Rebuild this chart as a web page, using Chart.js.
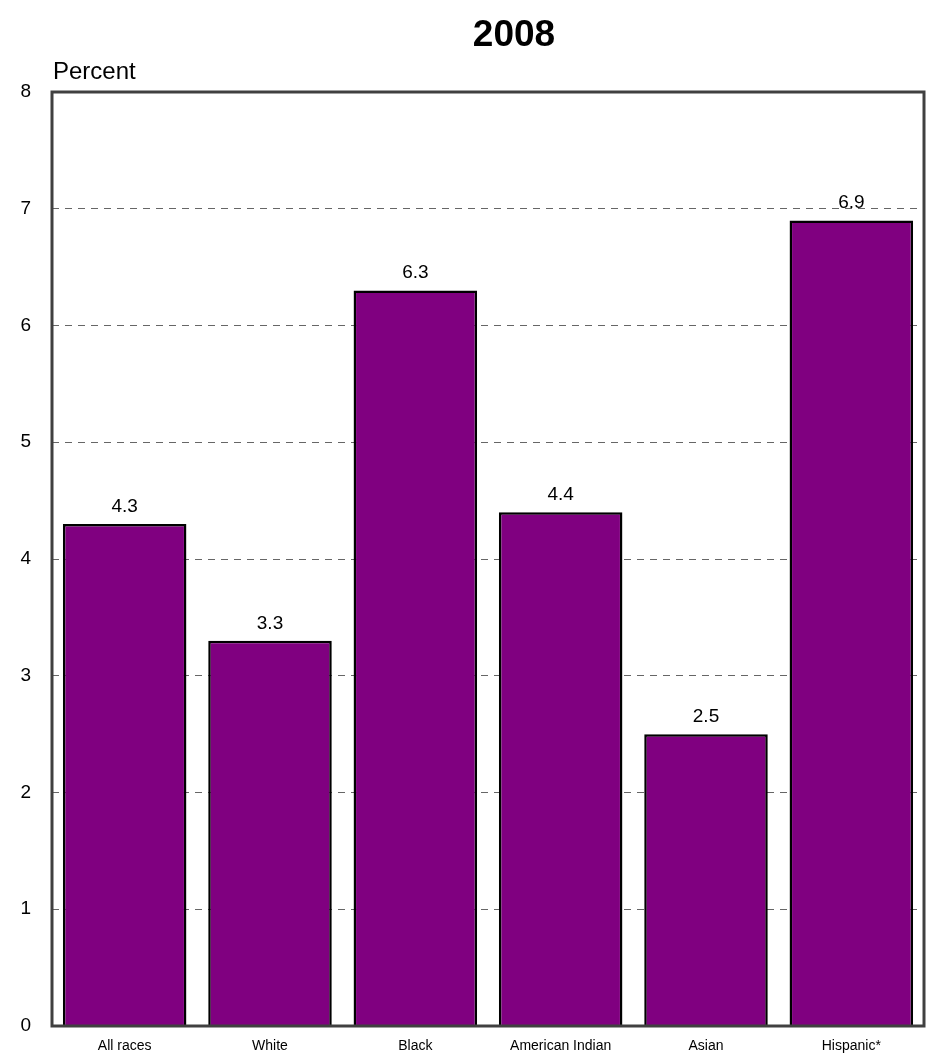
<!DOCTYPE html>
<html>
<head>
<meta charset="utf-8">
<script src="https://cdn.jsdelivr.net/npm/chart.js"></script>
<style>
  html, body { margin: 0; padding: 0; background: #ffffff; }
  #wrap { width: 929px; height: 1061px; position: relative; }
</style>
</head>
<body>
<div id="wrap"><canvas id="barChart" width="929" height="1061"></canvas></div>
<script>
// chart data
const categories = ['All races', 'White', 'Black', 'American Indian', 'Asian', 'Hispanic*'];
const percentValues = [4.3, 3.3, 6.3, 4.4, 2.5, 6.9];
const yTicks = [0, 1, 2, 3, 4, 5, 6, 7, 8];
const chartTitle = '2008';
const yAxisTitle = 'Percent';

const FONT = 'Arial, "Liberation Sans", Helvetica, sans-serif';

// frame, title, axis title and value labels
const decorPlugin = {
    id: 'decor',
    afterDatasetsDraw(chart) {
        const ctx = chart.ctx;
        const area = chart.chartArea;
        const meta = chart.getDatasetMeta(0);

        ctx.save();
        ctx.fillStyle = '#000000';
        ctx.textAlign = 'center';
        ctx.textBaseline = 'alphabetic';
        ctx.font = '19px ' + FONT;
        meta.data.forEach(function(bar, i) {
            ctx.fillText(percentValues[i].toFixed(1), bar.x, bar.y - 12);
        });

        // plot frame
        ctx.strokeStyle = '#404040';
        ctx.lineWidth = 3;
        ctx.strokeRect(area.left, area.top, area.right - area.left, area.bottom - area.top);

        // title
        ctx.font = 'bold 37px ' + FONT;
        ctx.textAlign = 'center';
        ctx.fillText(chartTitle, 514, 46);

        // y axis title
        ctx.font = '24px ' + FONT;
        ctx.textAlign = 'left';
        ctx.fillText(yAxisTitle, 53, 79);
        ctx.restore();
    }
};

const config = {
    type: 'bar',
    data: {
        labels: categories,
        datasets: [{
            data: percentValues,
            backgroundColor: '#800080',
            borderColor: '#000000',
            borderWidth: 2.5,
            borderSkipped: 'bottom',
            barPercentage: 0.85,
            categoryPercentage: 1.0
        }]
    },
    options: {
        responsive: false,
        animation: false,
        layout: {
            padding: { top: 92, right: 5, bottom: 0, left: 0 }
        },
        plugins: {
            legend: { display: false },
            tooltip: { enabled: false },
            title: { display: false }
        },
        scales: {
            x: {
                grid: { display: false, drawTicks: false },
                border: { display: false },
                ticks: {
                    color: '#000000',
                    font: { family: FONT, size: 14 },
                    padding: 12,
                    maxRotation: 0,
                    autoSkip: false
                },
                afterFit(scale) { scale.height = 35; }
            },
            y: {
                min: 0,
                max: 8,
                afterBuildTicks(scale) {
                    scale.ticks = yTicks.map(function(v) { return { value: v }; });
                },
                grid: {
                    drawTicks: false,
                    color: function(c) {
                        return (c.tick.value === 0 || c.tick.value === 8) ? 'rgba(0,0,0,0)' : '#666666';
                    },
                    lineWidth: 1
                },
                border: { display: false, dash: [7, 6] },
                ticks: {
                    color: '#000000',
                    font: { family: FONT, size: 19 },
                    padding: 21
                },
                afterFit(scale) { scale.width = 52; }
            }
        }
    },
    plugins: [decorPlugin]
};

const ctx = document.getElementById('barChart');
window.barChart = new Chart(ctx, config);
</script>
</body>
</html>
